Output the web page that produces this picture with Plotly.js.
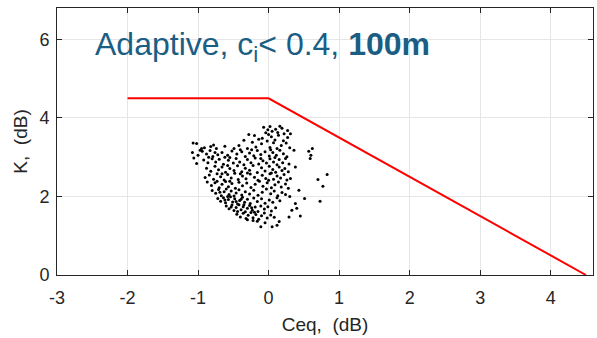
<!DOCTYPE html>
<html>
<head>
<meta charset="utf-8">
<script src="https://cdn.plot.ly/plotly-3.0.1.min.js"></script>
<style>html,body{margin:0;padding:0;background:#fff;}#chart{width:597px;height:338px;}</style>
</head>
<body>
<div id="chart"></div>
<script>
// Threshold line (Ceq, K)
var lineCeq = [-2, 0, 4.5];
var lineK = [4.5, 4.5, 0];

var ptsCeq = [
-0.07,-0.01,0.05,0.13,0.19,0.22,0.31,0.02,0.10,0.16,-0.04,0.27,
-0.35,-0.14,-0.09,-0.2,0.04,0.09,0.14,0.21,-0.02,0.27,-0.28,0.00,
-1.02,-0.95,-0.91,-0.82,-0.78,-0.74,-1.07,
-0.49,-0.30,-0.42,-0.18,-0.10,0.02,0.07,0.12,0.18,0.25,0.36,-0.62,-0.23,0.30,
0.57,0.62,0.60,
-1.08,-1.0,-0.94,-0.88,-0.83,-0.79,-0.76,-0.72,-0.85,-0.97,
-0.66,-0.58,-0.52,-0.45,-0.38,-0.33,-0.27,-0.21,-0.16,-0.11,-0.05,0.01,0.06,0.11,0.16,0.21,0.26,-0.62,-0.40,0.03,-0.24,
0.59,
-1.06,-1.02,-0.92,-0.86,-0.80,-0.75,-0.70,
-0.64,-0.57,-0.50,-0.46,-0.41,-0.35,-0.30,-0.25,-0.19,-0.14,-0.08,-0.03,0.02,0.07,0.12,0.15,0.20,0.24,0.29,-0.55,-0.11,0.09,
-0.88,-0.82,-0.76,-0.71,-0.66,-0.61,-0.55,-0.49,-0.44,-0.38,-0.33,-0.27,-0.22,-0.16,-0.10,-0.05,0.01,0.06,0.10,0.15,0.19,0.23,0.28,0.38,-0.58,0.04,-0.30,0.83,
-0.9,-0.84,-0.78,-0.73,-0.68,-0.63,-0.58,-0.53,-0.48,-0.43,-0.37,-0.32,-0.26,-0.20,-0.15,-0.09,-0.04,0.02,0.07,0.12,0.17,0.22,0.26,0.31,0.70,-0.66,-0.40,0.00,
-0.87,-0.81,-0.76,-0.70,-0.66,-0.61,-0.57,-0.52,-0.47,-0.42,-0.37,-0.31,-0.25,-0.19,-0.13,-0.08,-0.02,0.04,0.09,0.14,0.18,0.24,0.28,0.77,-0.73,-0.55,
-0.80,-0.75,-0.71,-0.67,-0.63,-0.60,-0.56,-0.53,-0.49,-0.46,-0.42,-0.38,-0.33,-0.27,-0.21,-0.15,-0.09,-0.03,0.03,0.08,0.13,0.19,0.43,-0.69,-0.58,0.24,
-0.72,-0.68,-0.64,-0.61,-0.57,-0.54,-0.51,-0.48,-0.44,-0.41,-0.37,-0.34,-0.30,-0.26,-0.21,-0.16,-0.10,-0.05,0.01,0.06,0.12,0.30,0.38,0.51,0.73,-0.62,-0.46,-0.39,0.16,
-0.60,-0.56,-0.52,-0.49,-0.46,-0.42,-0.39,-0.36,-0.33,-0.30,-0.27,-0.23,-0.19,-0.15,-0.11,-0.06,-0.01,0.04,0.10,0.33,0.40,-0.44,-0.35,-0.24,-0.53,
-0.45,-0.40,-0.36,-0.32,-0.29,-0.25,-0.22,-0.18,-0.14,-0.10,-0.06,-0.02,0.03,0.08,0.29,0.45,-0.30,-0.20,
-0.16,-0.11,-0.05,0.05,0.12,0.15,-0.22
];
var ptsK = [
3.76,3.70,3.66,3.63,3.74,3.60,3.60,3.78,3.71,3.79,3.62,3.68,
3.43,3.46,3.48,3.55,3.52,3.44,3.56,3.42,3.41,3.50,3.58,3.58,
3.35,3.22,3.24,3.27,3.31,3.22,3.36,
3.22,3.22,3.30,3.26,3.34,3.25,3.37,3.22,3.30,3.36,3.18,3.28,3.38,3.24,
3.15,3.22,3.05,
3.12,3.05,3.15,3.08,3.17,3.02,3.12,3.06,3.00,3.18,
3.12,3.05,3.16,3.08,3.14,3.02,3.11,3.04,3.17,3.07,3.14,3.03,3.12,3.05,3.18,3.09,3.01,3.00,3.19,3.19,3.19,
2.97,
2.98,2.84,2.93,2.86,2.96,2.88,2.95,
2.82,2.92,2.85,2.97,2.88,2.81,2.94,2.86,2.98,2.83,2.91,2.85,2.96,2.88,2.81,2.94,2.86,2.97,2.83,2.99,2.97,2.99,
2.72,2.64,2.77,2.68,2.75,2.62,2.71,2.66,2.78,2.63,2.72,2.67,2.79,2.61,2.73,2.65,2.77,2.69,2.62,2.75,2.66,2.71,2.63,2.75,2.79,2.60,2.60,2.56,
2.48,2.55,2.44,2.58,2.50,2.42,2.56,2.47,2.59,2.43,2.52,2.45,2.57,2.49,2.41,2.54,2.46,2.58,2.44,2.52,2.47,2.56,2.42,2.46,2.43,2.58,2.58,2.41,
2.37,2.28,2.35,2.22,2.31,2.38,2.25,2.33,2.21,2.36,2.27,2.34,2.23,2.31,2.39,2.26,2.35,2.22,2.30,2.37,2.24,2.32,2.21,2.26,2.39,2.39,
2.15,2.08,2.18,2.02,2.12,2.19,2.05,2.14,2.01,2.09,2.17,2.04,2.12,2.06,2.16,2.03,2.11,2.19,2.07,2.14,2.02,2.10,2.16,2.11,2.00,2.05,
1.95,1.88,1.97,1.84,1.92,1.99,1.86,1.94,1.81,1.90,1.98,1.85,1.93,1.82,1.96,1.87,1.94,1.83,1.91,1.85,1.97,2.00,1.82,1.95,1.88,1.91,1.87,1.93,1.89,
1.76,1.69,1.78,1.64,1.72,1.79,1.66,1.74,1.61,1.70,1.77,1.65,1.73,1.62,1.76,1.68,1.74,1.63,1.71,1.65,1.70,1.62,1.79,1.71,1.73,
1.55,1.48,1.57,1.44,1.52,1.59,1.46,1.54,1.42,1.51,1.58,1.45,1.53,1.47,1.48,1.50,1.41,1.60,
1.37,1.23,1.33,1.23,1.27,1.36,1.39
];

var xTicks = [-3,-2,-1,0,1,2,3,4];
var yTicks = [0,2,4,6];

var tickFont = {family: 'Liberation Sans, Arial, sans-serif', size: 18, color: '#262626'};
var titleFont = {family: 'Liberation Sans, Arial, sans-serif', size: 19, color: '#262626'};

var traces = [
  {x: lineCeq, y: lineK, type: 'scatter', mode: 'lines', line: {color: '#ff0000', width: 2}, hoverinfo: 'skip'},
  {x: ptsCeq, y: ptsK, type: 'scatter', mode: 'markers', marker: {color: '#000000', size: 3}, hoverinfo: 'skip'}
];

var layout = {
  width: 597, height: 338,
  margin: {l: 57, r: 4, t: 8, b: 63},
  paper_bgcolor: '#ffffff', plot_bgcolor: '#ffffff',
  showlegend: false,
  font: tickFont,
  xaxis: {
    range: [-3, 4.6], tickvals: xTicks, ticktext: xTicks.map(String),
    showgrid: true, gridcolor: '#e6e6e6', gridwidth: 1, zeroline: false,
    showline: true, linecolor: '#262626', linewidth: 1, mirror: 'ticks',
    ticks: 'inside', ticklen: 5, tickcolor: '#262626', tickfont: tickFont,
    ticklabelstandoff: 6,
    title: {text: 'Ceq,  (dB)', font: titleFont, standoff: 11}
  },
  yaxis: {
    range: [0, 6.8], tickvals: yTicks, ticktext: yTicks.map(String),
    showgrid: true, gridcolor: '#e6e6e6', gridwidth: 1, zeroline: false,
    showline: true, linecolor: '#262626', linewidth: 1, mirror: 'ticks',
    ticks: 'inside', ticklen: 5, tickcolor: '#262626', tickfont: tickFont,
    ticklabelstandoff: 3,
    title: {text: 'K,  (dB)', font: titleFont, standoff: 6}
  },
  annotations: [{
    xref: 'paper', yref: 'paper', x: 0.068, y: 0.855,
    xanchor: 'left', yanchor: 'middle', showarrow: false,
    text: 'Adaptive, c<sub>i</sub>< 0.4, <b>100m</b>',
    font: {family: 'Liberation Sans, Arial, sans-serif', size: 32, color: '#1b5e84'}
  }]
};

Plotly.newPlot('chart', traces, layout, {staticPlot: true, displayModeBar: false});
</script>
</body>
</html>
